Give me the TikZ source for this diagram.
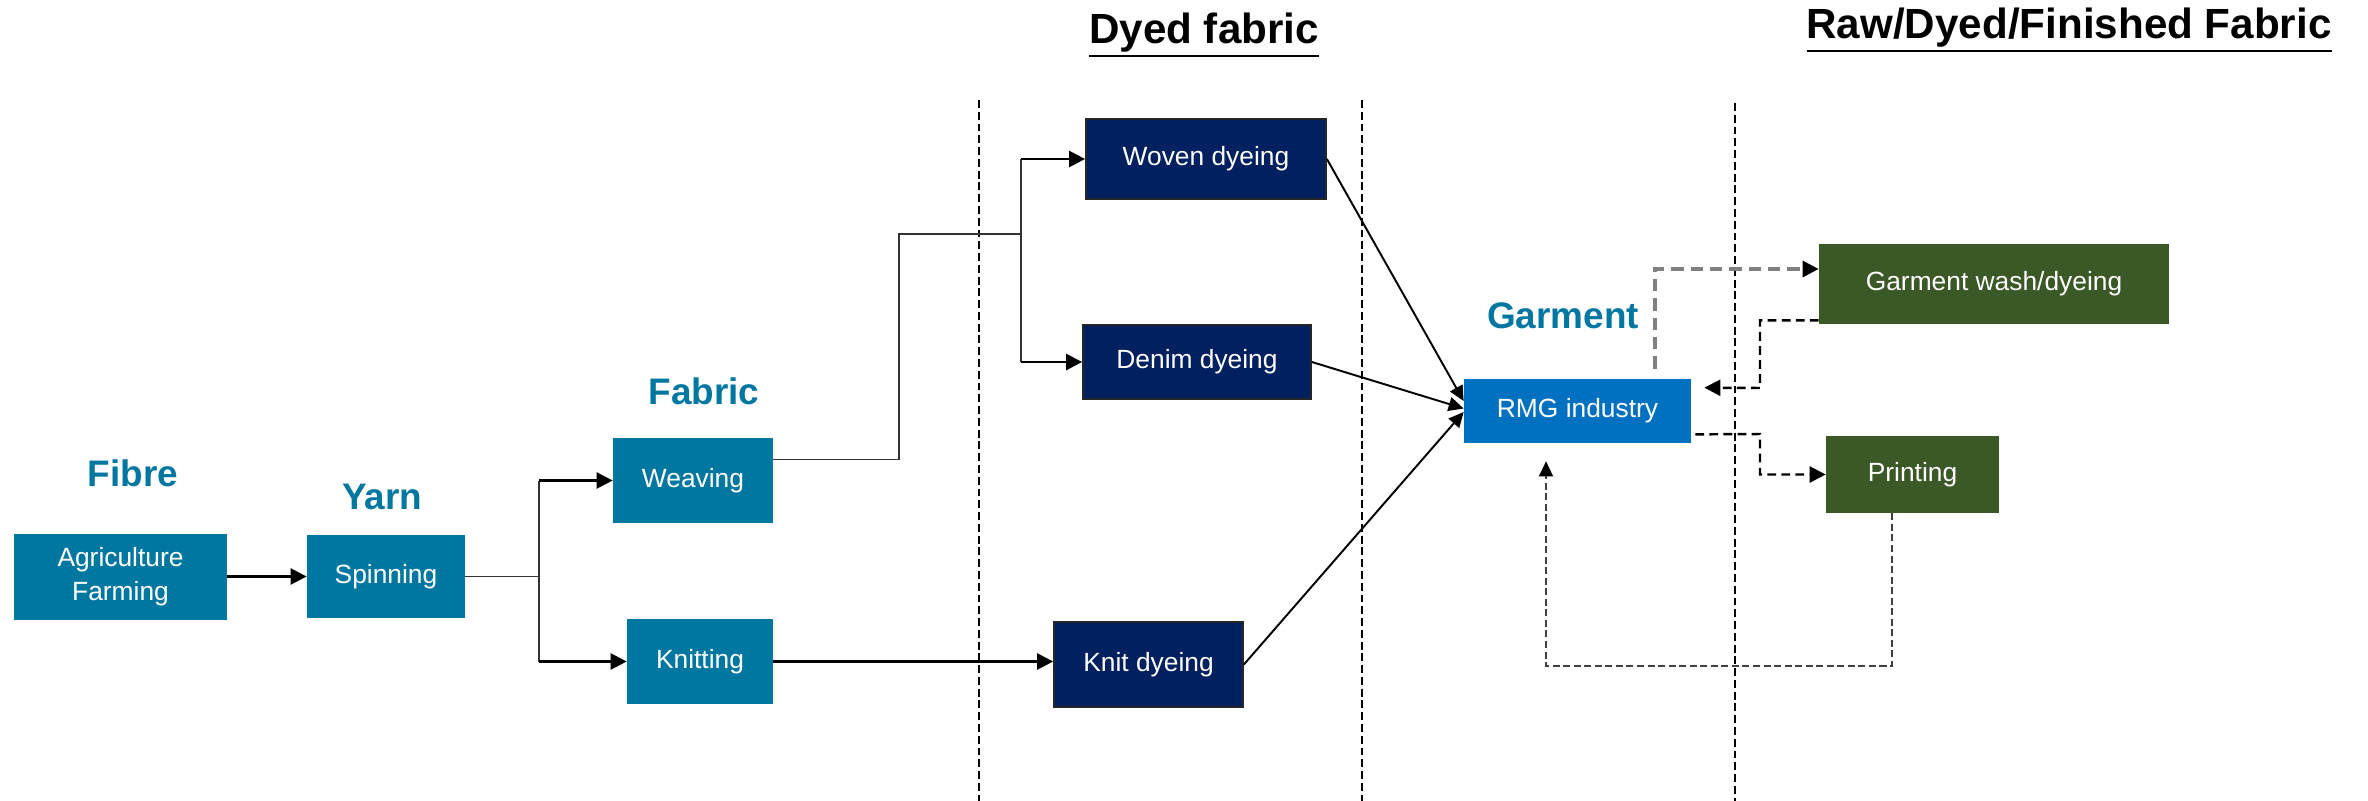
\documentclass[tikz,border=0pt]{standalone}
\usepackage{fontspec}
\setmainfont{Liberation Sans}
\usetikzlibrary{arrows.meta}
\definecolor{fibreteal}{RGB}{0,119,161}
\definecolor{dyenavy}{RGB}{0,32,96}
\definecolor{rmgblue}{RGB}{0,112,192}
\definecolor{finishgreen}{RGB}{59,89,38}
\newcommand{\headunder}[1]{\vtop{\hbox{#1}\kern1.5pt\hrule height 1.6pt}}

\begin{document}
\begin{tikzpicture}[
	stagebox/.style={rectangle, inner sep=0pt, text=white, align=center, font=\fontsize{15}{19}\selectfont},
	tealbox/.style={stagebox, fill=fibreteal},
	navybox/.style={stagebox, fill=dyenavy, draw=black!85, line width=1pt},
	greenbox/.style={stagebox, fill=finishgreen},
	stagelabel/.style={text=fibreteal, font=\fontsize{21}{25}\selectfont\bfseries},
	header/.style={font=\fontsize{24}{28}\selectfont\bfseries},
	sepline/.style={dash pattern=on 4.5pt off 2.2pt, line width=0.6pt},
	thinline/.style={line width=0.8pt, black!80},
	arr/.style={line width=1.4pt, -{Triangle[length=0.32cm,width=0.32cm]}},
	diagarr/.style={line width=1.1pt, -{Triangle[length=0.3cm,width=0.28cm]}},
	dasharr/.style={line width=1.4pt, dash pattern=on 5pt off 3pt, -{Triangle[length=0.32cm,width=0.32cm]}},
	grayarr/.style={line width=1.8pt, gray, dash pattern=on 7pt off 4pt, -{Triangle[length=0.32cm,width=0.32cm,color=black]}},
	looparr/.style={line width=0.9pt, black!75, dash pattern=on 4pt off 2pt, -{Triangle[length=0.3cm,width=0.28cm,color=black]}}
	]
	\useasboundingbox (0,0) rectangle (47.36,-16.02);
	
	%Headers
	\node (Dyed Header) at (24.08,-0.70) [header]{\headunder{Dyed fabric}};
	\node (Raw Header) at (41.38,-0.60) [header]{\headunder{Raw/Dyed/Finished Fabric}};
	
	%Separators
	\draw[sepline] (19.58,-2.0) -- (19.58,-16.02);
	\draw[sepline] (27.24,-2.0) -- (27.24,-16.02);
	\draw[sepline] (34.70,-2.06) -- (34.70,-16.02);
	
	%Fibre and yarn
	\node (Fibre) at (2.66,-9.46) [stagelabel]{Fibre};
	\node (Agriculture Farming) at (2.41,-11.53) [tealbox, minimum width=4.26cm, minimum height=1.72cm]{Agriculture\\Farming};
	\node (Yarn) at (7.64,-9.94) [stagelabel]{Yarn};
	\node (Spinning) at (7.72,-11.53) [tealbox, minimum width=3.16cm, minimum height=1.66cm]{Spinning};
	
	%Fabric
	\node (Fabric) at (14.08,-7.82) [stagelabel]{Fabric};
	\node (Weaving) at (13.86,-9.61) [tealbox, minimum width=3.2cm, minimum height=1.7cm]{Weaving};
	\node (Knitting) at (14.0,-13.23) [tealbox, minimum width=2.92cm, minimum height=1.7cm]{Knitting};
	
	%Dyeing
	\node (Woven Dyeing) at (24.12,-3.18) [navybox, minimum width=4.8cm, minimum height=1.6cm]{Woven dyeing};
	\node (Denim Dyeing) at (23.94,-7.24) [navybox, minimum width=4.56cm, minimum height=1.48cm]{Denim dyeing};
	\node (Knit Dyeing) at (22.97,-13.29) [navybox, minimum width=3.78cm, minimum height=1.7cm]{Knit dyeing};
	
	%Garment
	\node (Garment) at (31.26,-6.32) [stagelabel]{Garment};
	\node (RMG Industry) at (31.55,-8.22) [stagebox, fill=rmgblue, minimum width=4.54cm, minimum height=1.28cm]{RMG industry};
	\node (Garment Wash) at (39.88,-5.68) [greenbox, minimum width=7.0cm, minimum height=1.6cm]{Garment wash/dyeing};
	\node (Printing) at (38.25,-9.49) [greenbox, minimum width=3.46cm, minimum height=1.54cm]{Printing};
	
	%Bend points
	\coordinate (Spin Split) at (10.78,-11.53);
	\coordinate (Weave Bend) at (17.98,-4.68);
	\coordinate (Weave Split) at (20.42,-4.68);
	\coordinate (Wash Bend) at (35.2,-7.76);
	\coordinate (Print Bend) at (35.2,-8.68);
	\coordinate (Loop Corner) at (37.84,-13.32);
	
	%Fibre to fabric
	\draw[arr] (Agriculture Farming.east) -- (Spinning.west);
	\draw[thinline] (Spinning.east) -- (Spin Split);
	\draw[thinline] (Spin Split |- Weaving.west) -- (Spin Split |- Knitting.west);
	\draw[arr] (Spin Split |- Weaving.west) -- (Weaving.west);
	\draw[arr] (Spin Split |- Knitting.west) -- (Knitting.west);
	
	%Fabric to dyeing
	\draw[thinline] ([yshift=0.42cm]Weaving.east) -| (Weave Bend) -- (Weave Split);
	\draw[thinline] (Weave Split |- Woven Dyeing.west) -- (Weave Split |- Denim Dyeing.west);
	\draw[arr] (Weave Split |- Woven Dyeing.west) -- (Woven Dyeing.west);
	\draw[arr] (Weave Split |- Denim Dyeing.west) -- (Denim Dyeing.west);
	\draw[arr] (Knitting.east) -- (Knitting.east -| Knit Dyeing.west);
	
	%Dyeing to garment
	\draw[diagarr] (Woven Dyeing.east) -- ([yshift=0.2cm]RMG Industry.west);
	\draw[diagarr] (Denim Dyeing.east) -- ([yshift=0.05cm]RMG Industry.west);
	\draw[diagarr] (Knit Dyeing.east) -- ([yshift=-0.02cm]RMG Industry.west);
	
	%Finishing loops
	\draw[grayarr] ([xshift=1.55cm,yshift=0.2cm]RMG Industry.north) |- ([yshift=0.3cm]Garment Wash.west);
	\draw[dasharr] ([yshift=0.08cm]Garment Wash.south west) -| (Wash Bend) -- ([xshift=0.26cm,yshift=-0.18cm]RMG Industry.north east);
	\draw[dasharr] ([xshift=0.08cm,yshift=0.18cm]RMG Industry.south east) -- (Print Bend) |- (Printing.west);
	\draw[looparr] ([xshift=-0.41cm]Printing.south) -- (Loop Corner) -| ([xshift=-0.63cm,yshift=-0.36cm]RMG Industry.south);
	
\end{tikzpicture}
\end{document}
